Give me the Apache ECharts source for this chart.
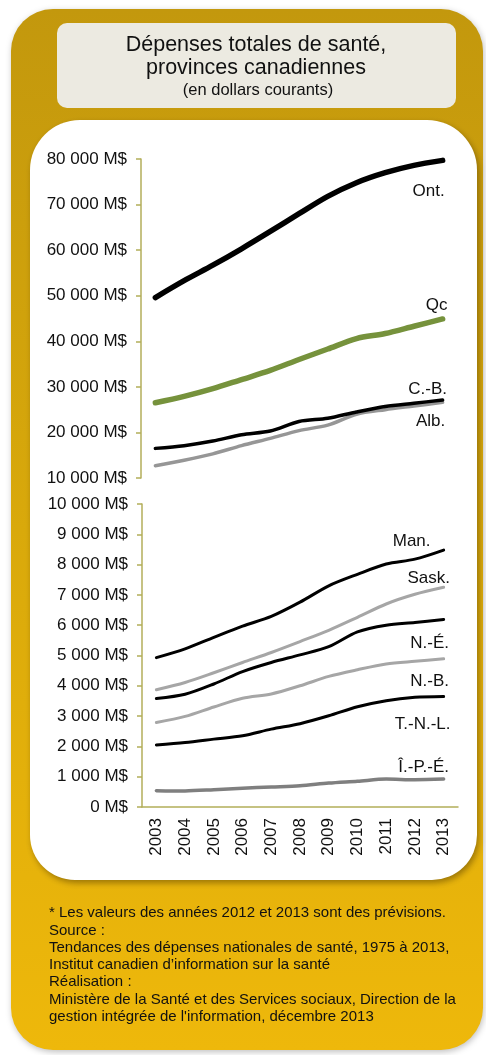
<!DOCTYPE html>
<html><head><meta charset="utf-8">
<script src="https://cdn.jsdelivr.net/npm/echarts@6/dist/echarts.min.js"></script>
<style>html,body{margin:0;padding:0;background:#fff}#c{width:486px;height:1055px}</style>
</head><body><div id="c"></div>
<script>
const years = ['2003','2004','2005','2006','2007','2008','2009','2010','2011','2012','2013'];
// Top panel (M$)
const ont = [49600, 53300, 56700, 60300, 64100, 68000, 71800, 74800, 77000, 78600, 79700];
const qc  = [26500, 27900, 29600, 31600, 33600, 36000, 38300, 40600, 41700, 43300, 44900];
const cb  = [16500, 17100, 18100, 19500, 20300, 22400, 23100, 24500, 25700, 26400, 27100];
const alb = [12700, 13900, 15300, 17100, 18700, 20400, 21600, 24000, 25000, 25800, 26600];
// Bottom panel (M$)
const man  = [4930, 5220, 5600, 5970, 6290, 6760, 7300, 7680, 8020, 8180, 8480];
const sask = [3870, 4110, 4430, 4770, 5100, 5460, 5830, 6260, 6700, 7020, 7250];
const ne   = [3580, 3720, 4060, 4470, 4770, 5020, 5290, 5780, 6000, 6090, 6190];
const nb   = [2790, 2990, 3300, 3590, 3730, 4000, 4310, 4530, 4720, 4810, 4890];
const tnl  = [2050, 2130, 2240, 2350, 2570, 2750, 3010, 3310, 3510, 3620, 3650];
const ipe  = [540, 530, 570, 620, 660, 700, 790, 850, 920, 900, 920];
const topTicks = {min: 10000, max: 80000, interval: 10000};
const botTicks = {min: 0, max: 10000, interval: 1000};

const FONT = '"Liberation Sans", Arial, sans-serif';
const AXC = '#B3AE5A';
function fmt(v){ return String(v).replace(/\B(?=(\d{3})+(?!\d))/g, ' ') + ' M$'; }

function mk(name, data, color, width, gi, off){
  return {
    type: 'line', name, xAxisIndex: gi, yAxisIndex: gi, smooth: 0.3,
    symbol: 'circle', symbolSize: 0, showSymbol: true,
    lineStyle: {color, width, cap: 'round', join: 'round'},
    itemStyle: {color},
    emphasis: {disabled: true},
    data: data.map((v, i) => i === data.length - 1 ? {
      value: v,
      label: {show: true, formatter: name, position: 'inside', offset: off,
              color: '#111', fontSize: 17, fontFamily: FONT}
    } : v),
    z: 5
  };
}

const chart = echarts.init(document.getElementById('c'), null, {renderer: 'canvas'});
chart.setOption({
  animation: false,
  backgroundColor: '#fff',
  textStyle: {fontFamily: FONT},
  graphic: [
    {type: 'rect', z: -10, shape: {x: 11, y: 9, width: 472, height: 1041, r: 42},
     style: {fill: new echarts.graphic.LinearGradient(0, 0, 0, 1, [
       {offset: 0, color: '#C3980D'}, {offset: 0.5, color: '#D9A90B'}, {offset: 1, color: '#EEB80B'}]),
       shadowBlur: 6, shadowColor: 'rgba(0,0,0,0.25)', shadowOffsetX: 1, shadowOffsetY: 2}},
    {type: 'rect', z: -9, shape: {x: 30, y: 120, width: 447, height: 760, r: [50, 50, 45, 45]},
     style: {fill: '#ffffff', shadowBlur: 6, shadowColor: 'rgba(60,40,0,0.45)', shadowOffsetX: 2, shadowOffsetY: 3}},
    {type: 'rect', z: -9, shape: {x: 57, y: 23, width: 399, height: 85, r: 10},
     style: {fill: '#ECEAE1'}},
    {type: 'text', z: -8, style: {x: 256, y: 45, text: 'Dépenses totales de santé,', fill: '#111',
      font: '21.5px ' + FONT, align: 'center', verticalAlign: 'middle'}},
    {type: 'text', z: -8, style: {x: 256, y: 68, text: 'provinces canadiennes', fill: '#111',
      font: '21.5px ' + FONT, align: 'center', verticalAlign: 'middle'}},
    {type: 'text', z: -8, style: {x: 258, y: 90, text: '(en dollars courants)', fill: '#111',
      font: '16.5px ' + FONT, align: 'center', verticalAlign: 'middle'}},
    {type: 'text', z: -8, style: {x: 49, y: 904.5, fill: '#111', font: '15px ' + FONT, lineHeight: 17.3,
      text: '* Les valeurs des années 2012 et 2013 sont des prévisions.\nSource :\nTendances des dépenses nationales de santé, 1975 à 2013,\nInstitut canadien d\u2019information sur la santé\nRéalisation :\nMinistère de la Santé et des Services sociaux, Direction de la\ngestion intégrée de l\'information, décembre 2013'}}
  ],
  grid: [
    {left: 141, top: 159, width: 316, height: 319},
    {left: 142, top: 504, width: 316, height: 303}
  ],
  xAxis: [
    {gridIndex: 0, type: 'category', data: years, boundaryGap: true, show: false},
    {gridIndex: 1, type: 'category', data: years, boundaryGap: true,
     axisLine: {show: true, lineStyle: {color: AXC, width: 1.5}},
     axisTick: {show: false},
     axisLabel: {rotate: 90, margin: 11, color: '#111', fontSize: 17, fontFamily: FONT}}
  ],
  yAxis: [
    {gridIndex: 0, type: 'value', min: topTicks.min, max: topTicks.max, interval: topTicks.interval,
     axisLine: {show: true, lineStyle: {color: AXC, width: 1.5}},
     axisTick: {show: true, length: 5, lineStyle: {color: AXC, width: 1.5}},
     splitLine: {show: false},
     axisLabel: {formatter: fmt, color: '#111', fontSize: 17, fontFamily: FONT, margin: 14}},
    {gridIndex: 1, type: 'value', min: botTicks.min, max: botTicks.max, interval: botTicks.interval,
     axisLine: {show: true, lineStyle: {color: AXC, width: 1.5}},
     axisTick: {show: true, length: 5, lineStyle: {color: AXC, width: 1.5}},
     splitLine: {show: false},
     axisLabel: {formatter: fmt, color: '#111', fontSize: 17, fontFamily: FONT, margin: 14}}
  ],
  series: [
    mk('Ont.', ont, '#000000', 5.5, 0, [-14, 31]),
    mk('Qc', qc, '#76923C', 5.5, 0, [-6, -14]),
    mk('Alb.', alb, '#969696', 3.5, 0, [-12, 19]),
    mk('C.-B.', cb, '#000000', 3.5, 0, [-15, -11]),
    mk('Man.', man, '#000000', 3, 1, [-32, -9]),
    mk('Sask.', sask, '#A6A6A6', 3, 1, [-15, -9]),
    mk('N.-É.', ne, '#000000', 3, 1, [-14, 24]),
    mk('N.-B.', nb, '#A6A6A6', 3, 1, [-14, 22]),
    mk('T.-N.-L.', tnl, '#000000', 3, 1, [-21, 28]),
    mk('Î.-P.-É.', ipe, '#7F7F7F', 3.5, 1, [-20, -12])
  ]
});
</script></body></html>
